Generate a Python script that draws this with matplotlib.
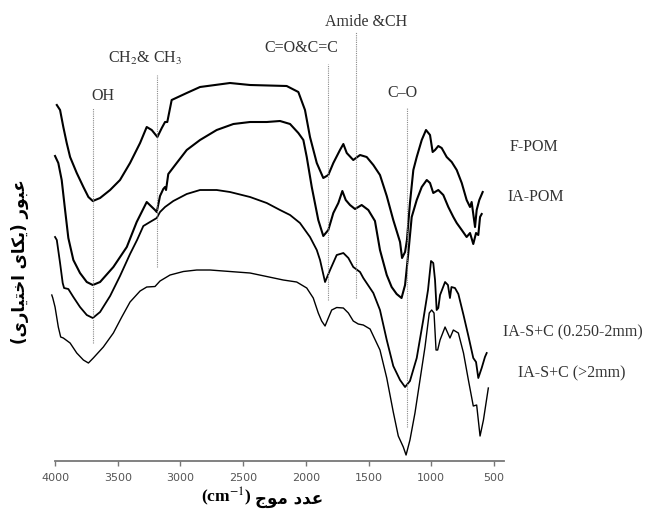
#!/usr/bin/env python3
import matplotlib
matplotlib.use('Agg')

import matplotlib.pyplot as plt

# FTIR spectra, wavenumber (cm-1) vs transmittance (arbitrary units, offset)
fpom_wn = [3986, 3960, 3934, 3907, 3880, 3827, 3774, 3734, 3699, 3641, 3561,
           3482, 3402, 3322, 3269, 3229, 3184, 3149, 3123, 3105, 3070, 2950,
           2844, 2605, 2445, 2153, 2060, 2007, 1967, 1913, 1861, 1821, 1781,
           1728, 1701, 1674, 1622, 1568, 1515, 1462, 1409, 1355, 1303, 1249,
           1233, 1209, 1194, 1170, 1143, 1116, 1076, 1042, 1010, 989, 970,
           944, 917, 877, 837, 797, 757, 718, 691, 678, 651, 638, 617, 590]
fpom_t = [356, 351, 334, 318, 304, 288, 274, 264, 260, 263, 271,
          281, 298, 318, 334, 331, 324, 333, 339, 339, 361, 368,
          374, 378, 376, 375, 369, 351, 324, 298, 283, 286, 298,
          311, 317, 308, 301, 306, 304, 296, 286, 265, 241, 219,
          203, 209, 221, 258, 291, 304, 321, 331, 326, 309, 311,
          315, 313, 304, 299, 291, 278, 261, 254, 259, 234, 251, 261, 269]

iapom_wn = [4000, 3974, 3947, 3920, 3894, 3854, 3801, 3747, 3699, 3641, 3535,
            3428, 3349, 3269, 3203, 3189, 3163, 3137, 3123, 3115, 3097, 3030,
            2950, 2844, 2711, 2578, 2445, 2312, 2206, 2126, 2060, 2020, 1993,
            1953, 1901, 1861, 1821, 1781, 1741, 1709, 1682, 1648, 1608, 1555,
            1502, 1449, 1409, 1355, 1316, 1276, 1237, 1209, 1183, 1156, 1116,
            1076, 1036, 1010, 984, 944, 904, 864, 824, 797, 757, 718, 691,
            665, 643, 625, 611, 598]
iapom_t = [305, 298, 281, 251, 223, 201, 188, 179, 176, 179, 194,
           214, 239, 259, 251, 249, 265, 272, 274, 271, 287, 298,
           311, 321, 331, 337, 339, 339, 340, 337, 328, 321, 304,
           274, 241, 225, 231, 248, 258, 270, 261, 256, 252, 256,
           251, 240, 211, 186, 174, 167, 163, 176, 208, 244, 261,
           274, 281, 278, 268, 271, 266, 254, 244, 238, 231, 224, 228,
           217, 228, 226, 244, 247]

sc_mid_wn = [4000, 3986, 3960, 3939, 3928, 3894, 3854, 3801, 3747, 3699, 3641,
             3561, 3482, 3402, 3346, 3296, 3243, 3189, 3163, 3123, 3057, 2950,
             2844, 2711, 2605, 2445, 2312, 2206, 2126, 2047, 1967, 1913, 1887,
             1847, 1807, 1754, 1701, 1661, 1622, 1568, 1542, 1462, 1409, 1355,
             1303, 1249, 1209, 1170, 1116, 1064, 1026, 1002, 984, 970, 957,
             944, 930, 890, 867, 851, 839, 811, 784, 743, 704, 665, 643, 625,
             598, 572, 558]
sc_mid_t = [224, 221, 198, 178, 173, 172, 164, 154, 146, 143, 149,
            165, 185, 207, 221, 235, 239, 243, 249, 254, 260, 267,
            271, 271, 269, 264, 258, 251, 246, 238, 224, 211, 201,
            179, 191, 206, 208, 203, 194, 189, 183, 168, 151, 121,
            95, 81, 74, 80, 103, 141, 171, 200, 198, 181, 151,
            153, 166, 179, 176, 163, 174, 173, 167, 146, 125, 103, 99, 83,
            93, 104, 108]

sc_big_wn = [4026, 4018, 4000, 3974, 3955, 3934, 3880, 3827, 3774, 3734, 3695,
             3615, 3535, 3468, 3402, 3322, 3269, 3203, 3163, 3083, 2977, 2870,
             2764, 2605, 2445, 2312, 2180, 2073, 1993, 1941, 1901, 1874, 1847,
             1821, 1794, 1754, 1701, 1661, 1622, 1582, 1542, 1488, 1409, 1355,
             1303, 1263, 1223, 1201, 1170, 1130, 1090, 1050, 1016, 997, 978,
             962, 949, 930, 890, 851, 824, 784, 743, 704, 665, 638, 611, 584,
             545]
sc_big_t = [166, 163, 154, 134, 124, 123, 118, 108, 101, 98, 103,
            114, 128, 144, 159, 170, 174, 174.5, 180, 186, 189.5, 191,
            191, 189.5, 188, 184.5, 181, 179, 173, 163, 148, 140, 135,
            143, 151, 153.5, 153, 148, 140, 137, 136, 132, 111, 83,
            49, 25, 14, 6, 21, 48, 81, 114, 148, 151, 148,
            111, 111, 121, 134, 123, 131, 128, 108, 81, 55, 56, 25, 41,
            73]

series_names = ['F-POM', 'IA-POM', 'IA-S+C (0.250-2mm)', 'IA-S+C (>2mm)']
series_wn = [fpom_wn, iapom_wn, sc_mid_wn, sc_big_wn]
series_t = [fpom_t, iapom_t, sc_mid_t, sc_big_t]

# band guide lines: position, bottom, top, label and label anchor
band_labels = ['OH', 'CH$_2$& CH$_3$', 'C=O&C=C', 'Amide &CH', 'C\u2013O']
band_wn = [3700, 3184, 1823, 1600, 1190]
band_lo = [118, 194, 161, 163, 34]
band_hi = [353, 386, 397, 429, 353]
band_text_wn = [3707, 3282, 2039, 1520, 1233]
band_text_t = [365, 403, 413, 439, 368]
band_text_ha = ['left', 'center', 'center', 'center', 'center']

xticks = [4000, 3500, 3000, 2500, 2000, 1500, 1000, 500]

# Persian axis titles, shaped by hand (presentation forms, visual order)
ylabel = ('(\uFBFC\uFEAD\uFE8E\uFBFF\uFE98\uFEA7\uFE8D '
          '\uFBFC\uFE8E\uFB91\uFBFE) \uFEAD\uFEEE\uFE92\uFECB')
xlabel_fa = '\uFE9D\uFEEE\uFEE3 \uFEA9\uFEAA\uFECB'
xlabel_unit = '(cm$^{-1}$)'


def main():
    fig = plt.figure(figsize=(6.51, 5.18), dpi=100)
    ax = fig.add_axes([0.073, 0.110, 0.7012, 0.8707])

    widths = [1.5, 1.5, 1.3, 1.0]
    for wn, t, lw in zip(series_wn, series_t, widths):
        ax.plot(wn, t, color='black', lw=lw, solid_joinstyle='round')

    serif = ['Liberation Serif', 'DejaVu Serif']
    for wn, lo, hi in zip(band_wn, band_lo, band_hi):
        ax.plot([wn, wn], [lo, hi], color='#8a8a8a', lw=0.8,
                linestyle=(0, (1, 1)))
    for lab, x, y, ha in zip(band_labels, band_text_wn, band_text_t,
                             band_text_ha):
        ax.text(x, y, lab, ha=ha, va='center', fontsize=11.5,
                color='#333333', family=serif)

    ax.set_xlim(4060, 420)
    ax.set_ylim(0, 451)
    for side in ['top', 'right', 'left']:
        ax.spines[side].set_visible(False)
    ax.spines['bottom'].set_bounds(420, 4000)
    ax.spines['bottom'].set_color('#777777')
    ax.spines['bottom'].set_linewidth(1.3)
    ax.set_yticks([])
    ax.set_xticks(xticks)
    ax.set_xticklabels([str(v) for v in xticks])
    ax.tick_params(axis='x', direction='out', length=3.5, width=1.0,
                   color='#777777', pad=5, labelsize=8, labelcolor='#555555')

    # series names to the right of the spectra
    name_pos = [(0.783, 0.716), (0.780, 0.620), (0.773, 0.359), (0.796, 0.280)]
    for name, (x, y) in zip(series_names, name_pos):
        fig.text(x, y, name, ha='left', va='center', fontsize=11.5,
                 color='#333333', family=serif)

    fig.text(0.031, 0.494, ylabel, rotation=90, ha='center', va='center',
             fontsize=12, fontweight='bold', family=['DejaVu Sans'])
    fig.text(0.386, 0.040, xlabel_unit, ha='right', va='center',
             fontsize=12.5, fontweight='bold', family=['Liberation Serif'])
    fig.text(0.392, 0.036, xlabel_fa, ha='left', va='center',
             fontsize=12, fontweight='bold', family=['DejaVu Sans'])

    fig.savefig('out.png', dpi=100)


if __name__ == '__main__':
    plt.rcParams['mathtext.fontset'] = 'stix'
    main()
